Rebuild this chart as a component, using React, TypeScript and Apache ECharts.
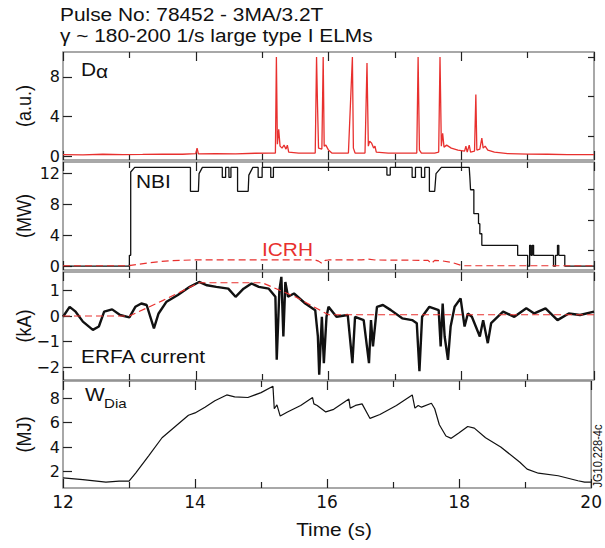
import React, { useEffect, useRef } from "react";
import * as echarts from "echarts";

// ---- data (time in s, value) ----
const dAlphaData: [number, number][] = [
  [12.0, 0.15], [12.3, 0.12], [12.6, 0.18], [12.9, 0.14], [13.2, 0.16], [13.5, 0.2], [13.8, 0.18],
  [14.0, 0.25], [14.02, 0.8], [14.04, 0.22], [14.3, 0.25], [14.6, 0.22], [14.9, 0.28], [15.1, 0.3],
  [15.2, 0.3], [15.215, 10], [15.23, 1.2], [15.25, 2.7], [15.27, 1.0], [15.3, 0.8], [15.33, 1.1],
  [15.36, 0.7], [15.38, 1.1], [15.4, 0.4], [15.55, 0.3], [15.8, 0.3], [15.82, 10], [15.835, 5],
  [15.85, 0.8], [15.9, 0.7], [15.92, 10], [15.935, 1.0], [15.96, 1.1], [16.0, 0.6], [16.05, 0.3],
  [16.3, 0.3], [16.36, 10], [16.375, 0.8], [16.4, 0.3], [16.55, 0.3], [16.58, 9.4], [16.6, 1.0],
  [16.62, 1.5], [16.65, 1.3], [16.68, 0.8], [16.7, 1.0], [16.72, 0.4], [16.9, 0.3], [17.1, 0.3],
  [17.33, 0.3], [17.35, 10], [17.37, 0.6], [17.4, 0.3], [17.6, 0.3], [17.66, 0.4], [17.68, 10],
  [17.7, 1.0], [17.72, 2.3], [17.74, 0.9], [17.78, 1.1], [17.85, 0.8], [17.95, 0.6], [18.05, 0.5],
  [18.07, 1.0], [18.09, 0.4], [18.12, 1.1], [18.14, 0.4], [18.2, 0.5], [18.22, 6.2], [18.235, 0.6],
  [18.28, 0.7], [18.31, 1.8], [18.33, 0.8], [18.36, 1.0], [18.4, 0.6], [18.5, 0.4], [18.7, 0.25],
  [19.0, 0.2], [19.3, 0.18], [19.6, 0.15], [20.0, 0.15],
];

const nbiData: [number, number][] = [
  [12, 0], [13.0, 0], [13.0, 1.4], [13.02, 1.4], [13.02, 12.2], [13.08, 12.8], [13.92, 12.8],
  [13.92, 9.7], [14.04, 9.7], [14.05, 12.0], [14.1, 12.8], [14.4, 12.8], [14.4, 11.5], [14.45, 11.5],
  [14.45, 12.8], [14.5, 12.8], [14.5, 11.5], [14.53, 11.5], [14.53, 12.8], [14.63, 12.8], [14.63, 9.7],
  [14.79, 9.7], [14.8, 11.8], [14.86, 12.8], [14.94, 12.8], [14.94, 11.5], [15.0, 11.5], [15.0, 12.8],
  [15.13, 12.8], [15.13, 11.5], [15.17, 11.5], [15.17, 12.8], [16.88, 12.8], [16.88, 11.8],
  [16.93, 11.8], [16.93, 12.8], [17.26, 12.8], [17.26, 11.5], [17.31, 11.5], [17.31, 12.8],
  [17.4, 12.8], [17.4, 11.5], [17.45, 11.5], [17.45, 12.8], [17.52, 12.8], [17.52, 9.7], [17.6, 9.7],
  [17.62, 12.0], [17.7, 12.8], [18.12, 12.8], [18.13, 11.5], [18.14, 9.9], [18.19, 9.9], [18.19, 6.8],
  [18.26, 6.8], [18.26, 5.5], [18.28, 5.5], [18.28, 4.2], [18.31, 4.2], [18.31, 2.7], [18.85, 2.7],
  [18.85, 1.4], [19.0, 1.4], [19.0, 0], [19.03, 0], [19.03, 2.7], [19.05, 2.7], [19.05, 1.4],
  [19.07, 1.4], [19.07, 2.7], [19.09, 2.7], [19.09, 1.4], [19.39, 1.4], [19.39, 0], [19.42, 0],
  [19.42, 1.4], [19.45, 1.4], [19.45, 2.7], [19.47, 2.7], [19.47, 1.4], [19.56, 1.4], [19.56, 0],
  [20, 0],
];

const icrhData: [number, number][] = [
  [12, 0.05], [13.0, 0.05], [13.02, 0.1], [13.3, 0.45], [13.6, 0.7], [14.0, 0.82], [14.5, 0.8],
  [15.0, 0.8], [15.4, 0.82], [15.8, 0.8], [15.85, 0.65], [15.9, 0.35], [15.95, 0.75], [16.0, 0.8],
  [16.5, 0.82], [16.6, 0.9], [16.7, 0.8], [17.0, 0.78], [17.5, 0.75], [17.55, 0.35], [17.6, 0.75],
  [17.7, 0.7], [17.85, 0.5], [18.0, 0.1], [18.05, 0.05], [20, 0.05],
];

const erfaData: [number, number][] = [
  [12.0, -0.03], [12.1, 0.36], [12.19, 0.17], [12.3, -0.22], [12.45, -0.54], [12.54, -0.41],
  [12.62, 0.17], [12.74, 0.26], [12.86, 0.04], [13.0, -0.05], [13.09, 0.36], [13.18, 0.49],
  [13.26, 0.43], [13.37, -0.48], [13.44, 0.1], [13.56, 0.56], [13.73, 0.82], [13.91, 1.14],
  [14.05, 1.33], [14.17, 1.2], [14.31, 1.14], [14.49, 1.07], [14.6, 0.75], [14.72, 1.07],
  [14.84, 1.27], [14.95, 1.14], [15.1, 1.07], [15.2, 0.75], [15.22, -1.71], [15.26, 1.0],
  [15.29, 1.53], [15.32, -0.8], [15.35, 1.33], [15.39, 0.75], [15.48, 0.88], [15.65, 0.49],
  [15.8, 0.23], [15.84, -0.8], [15.86, -2.29], [15.9, -0.03], [15.93, -1.84], [15.97, -0.03],
  [16.0, 0.36], [16.12, -0.03], [16.29, 0.04], [16.36, -1.84], [16.4, -0.03], [16.53, -0.16],
  [16.61, -1.84], [16.64, -0.16], [16.67, -1.19], [16.73, 0.36], [16.82, 0.43], [16.94, 0.23],
  [17.11, -0.09], [17.26, -0.16], [17.33, -0.28], [17.37, -2.16], [17.41, -0.03], [17.52, 0.36],
  [17.66, 0.23], [17.69, -1.19], [17.72, 0.49], [17.75, -0.8], [17.8, -1.71], [17.84, -0.41],
  [17.9, 0.36], [17.99, 0.69], [18.05, -0.41], [18.1, 0.1], [18.16, -0.03], [18.28, -0.8],
  [18.33, -0.16], [18.4, -1.06], [18.45, -0.28], [18.63, 0.17], [18.8, -0.03], [18.98, 0.3],
  [19.1, 0.1], [19.27, 0.3], [19.45, -0.16], [19.62, 0.1], [19.79, 0.04], [20.0, 0.17],
];

const erfaRefData: [number, number][] = [
  [12, 0.0], [13.0, 0.0], [13.5, 0.6], [14.05, 1.3], [15.0, 1.3], [15.5, 0.75], [16.0, 0.05], [20, 0.05],
];

const wdiaData: [number, number][] = [
  [12.0, 1.47], [12.3, 1.34], [12.65, 1.13], [12.85, 1.22], [13.0, 1.21], [13.1, 1.87], [13.3, 3.3],
  [13.5, 4.76], [13.7, 5.68], [13.9, 6.6], [14.0, 6.79], [14.15, 7.26], [14.3, 7.79], [14.48, 8.26],
  [14.6, 8.1], [14.8, 8.05], [15.0, 8.45], [15.18, 8.97], [15.2, 7.13], [15.24, 7.45], [15.29, 6.53],
  [15.4, 6.87], [15.6, 7.4], [15.78, 8.05], [15.8, 7.53], [15.85, 7.4], [15.98, 6.87], [16.1, 7.08],
  [16.33, 7.92], [16.35, 7.18], [16.43, 7.4], [16.53, 7.53], [16.65, 6.34], [16.8, 6.66], [17.05, 7.4],
  [17.29, 8.26], [17.33, 7.18], [17.38, 7.4], [17.43, 7.26], [17.58, 7.58], [17.63, 7.13], [17.7, 5.82],
  [17.8, 4.9], [17.88, 4.71], [18.0, 5.16], [18.13, 5.68], [18.23, 5.55], [18.4, 4.76], [18.63, 4.0],
  [18.92, 2.76], [19.03, 2.19], [19.2, 1.86], [19.5, 1.65], [19.8, 1.24], [19.9, 1.13], [20.0, 1.13],
];

// ---- axes ----
const timeMin = 12;
const timeMax = 20;
const timeInterval = 2;
const yMajor = [[0, 4, 8], [0, 4, 8, 12], [-2, -1, 0, 1], [2, 4, 6, 8]];
const yMinorTicks = [[2, 6, 10], [2, 6, 10], [], []];
const yMin = [-0.4, -0.5, -2.5, 0.65];
const yMax = [10.5, 13.5, 1.72, 9.4];
const yNames = ["(a.u.)", "(MW)", "(kA)", "(MJ)"];

const FONT = "Liberation Sans, Arial, Helvetica, sans-serif";
const NUMFONT = "DejaVu Sans, sans-serif";
const RED = "#e8302e";
const SX = 1.16;

export default function App() {
  const ref = useRef<HTMLDivElement>(null);
  useEffect(() => {
    const chart = echarts.init(ref.current!, null, { renderer: "svg" });
    const L = 63;
    const W = 531;
    const boxes = [
      { top: 52, height: 108 },
      { top: 162, height: 108 },
      { top: 272, height: 108 },
      { top: 381, height: 107 },
    ];
    const grid = boxes.map((b) => ({
      left: L, width: W, top: b.top, height: b.height,
      show: true, borderColor: "#8c8c8c", borderWidth: 1.5, backgroundColor: "transparent",
    }));
    const tickStyle = { color: "#222", width: 1.2 };
    const xAxis: any[] = [];
    const yAxis: any[] = [];
    boxes.forEach((_, i) => {
      ["bottom", "top"].forEach((pos) => {
        xAxis.push({
          type: "value", gridIndex: i, position: pos, min: timeMin, max: timeMax, interval: timeInterval,
          axisLine: { show: false, onZero: false },
          axisTick: { show: true, inside: true, length: 9, lineStyle: tickStyle },
          minorTick: { show: true, splitNumber: 2, length: 6, lineStyle: tickStyle },
          splitLine: { show: false }, minorSplitLine: { show: false },
          axisLabel: {
            show: i === 3 && pos === "bottom", fontFamily: NUMFONT, fontSize: 17, color: "#111", margin: 5,
          },
        });
      });
      yAxis.push({
        type: "value", gridIndex: i, min: yMin[i], max: yMax[i],
        axisLine: { show: false, onZero: false }, splitLine: { show: false },
        axisTick: { show: true, inside: true, length: 9, customValues: yMajor[i], lineStyle: tickStyle },
        axisLabel: {
          show: true, customValues: yMajor[i], fontFamily: NUMFONT, fontSize: 16, color: "#111", margin: 3,
          formatter: (v: number) => String(v).replace("-", "\u2212"),
        },
      });
      yAxis.push({
        type: "value", gridIndex: i, min: yMin[i], max: yMax[i],
        axisLine: { show: false, onZero: false }, splitLine: { show: false },
        axisTick: { show: yMinorTicks[i].length > 0, inside: true, length: 6, customValues: yMinorTicks[i], lineStyle: tickStyle },
        axisLabel: { show: false },
      });
    });

    const line = (data: [number, number][], xi: number, yi: number, color: string, width: number, dashed = false) => ({
      type: "line", xAxisIndex: xi, yAxisIndex: yi, data, showSymbol: false, symbol: "none",
      lineStyle: { color, width, type: dashed ? [7, 4] : "solid" }, silent: true,
    });

    const txt = (text: string, x: number, y: number, size: number, color = "#111", align = "left") => ({
      type: "text", x, y, scaleX: SX,
      style: { text, fill: color, font: `${size}px ${FONT}`, align, verticalAlign: "middle" },
    });
    const vtxt = (text: string, x: number, y: number, size: number) => ({
      type: "text", x, y, rotation: Math.PI / 2, scaleY: SX,
      style: { text, fill: "#111", font: `${size}px ${FONT}`, align: "center", verticalAlign: "middle" },
    });
    const panelCenters = boxes.map((b) => b.top + b.height / 2);

    chart.setOption({
      animation: false,
      backgroundColor: "#ffffff",
      grid, xAxis, yAxis,
      series: [
        line(dAlphaData, 0, 0, RED, 1.3),
        line(nbiData, 2, 2, "#111", 1.3),
        line(icrhData, 2, 2, RED, 1.2, true),
        line(erfaData, 4, 4, "#111", 2.4),
        line(erfaRefData, 4, 4, RED, 1.2, true),
        line(wdiaData, 6, 6, "#111", 1.2),
      ],
      graphic: [
        txt("Pulse No: 78452 - 3MA/3.2T", 60, 15, 18),
        txt("\u03b3 ~ 180-200 1/s large type I ELMs", 60, 36, 18),
        txt("D", 81, 70, 18),
        txt("\u03b1", 96, 72, 18),
        txt("NBI", 136, 182, 18),
        txt("ICRH", 262, 250, 18, RED),
        txt("ERFA current", 81, 357, 18),
        txt("W", 85, 395, 18),
        txt("Dia", 104, 403, 13),
        txt("Time (s)", 334, 530, 18, "#111", "center"),
        ...yNames.map((n, i) => vtxt(n, 24, panelCenters[i], 18)),
        vtxt("JG10.228-4c", 598, 456, 11),
      ],
    });
    return () => chart.dispose();
  }, []);
  return <div ref={ref} style={{ position: "fixed", left: 0, top: 0, width: 605, height: 548 }} />;
}
